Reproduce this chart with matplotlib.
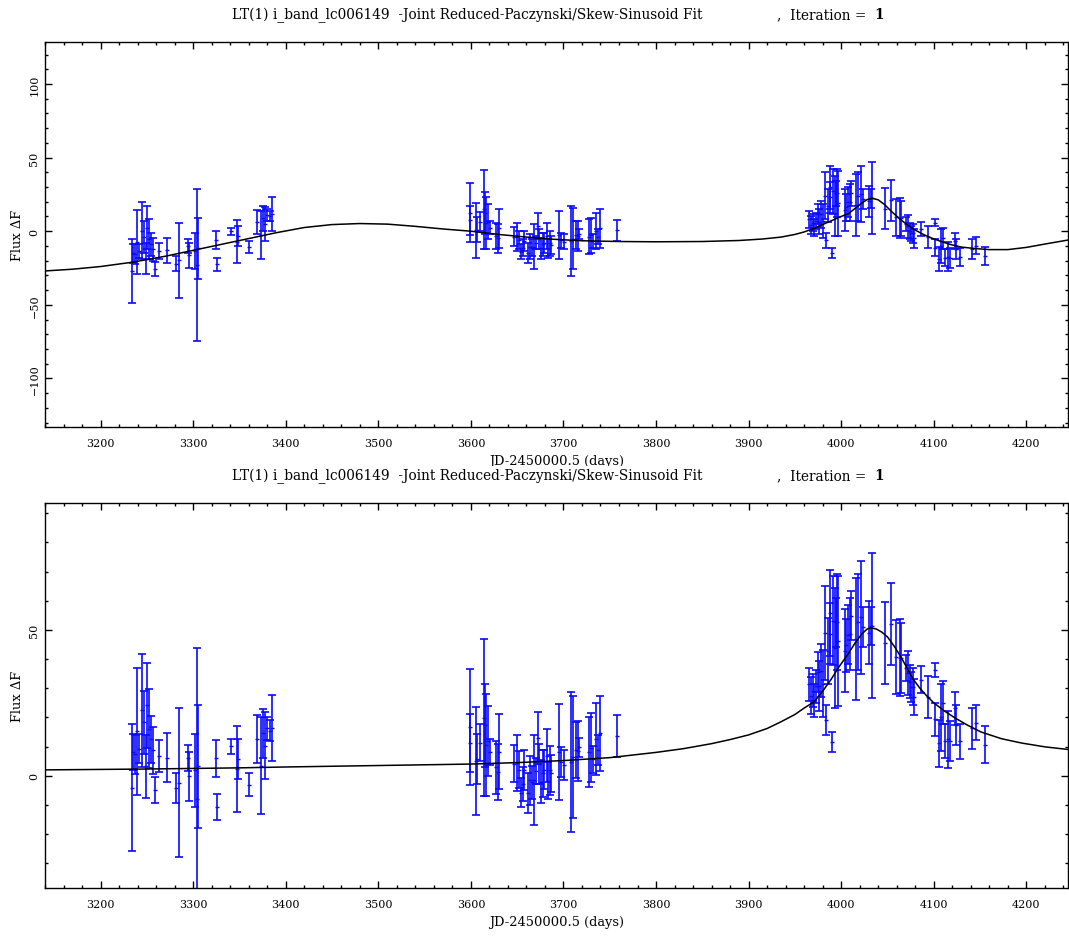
import matplotlib
matplotlib.use('Agg')
import matplotlib.pyplot as plt
from matplotlib.ticker import MultipleLocator

plt.rcParams['font.family'] = ['DejaVu Serif', 'DejaVu Sans']

# observation epochs (JD-2450000.5), fluxes for both panels and errors
jd = [3234, 3235, 3237, 3239, 3241, 3245, 3247, 3249, 3250, 3252, 3254, 3257, 3259, 3263,
      3272, 3282, 3285, 3294, 3295, 3302, 3304.5, 3305, 3325, 3326, 3340.5, 3347, 3348.5,
      3360, 3369, 3373, 3376, 3378, 3380, 3383, 3385.6,
      3599, 3599.5, 3605.4, 3607, 3610, 3614.4, 3614.8, 3616.2, 3618, 3621, 3627, 3629,
      3630.7, 3647, 3649.4, 3652, 3654, 3656, 3657.7, 3661.3, 3664, 3666, 3668.5, 3670,
      3672, 3674, 3675.7, 3677.5, 3679.3, 3682, 3683, 3685, 3686, 3695.5, 3697, 3701, 3708,
      3710, 3713.5, 3715.3, 3717, 3728, 3730, 3732, 3735, 3737, 3739, 3758,
      3965.7, 3967.5, 3969.3, 3971, 3973, 3974.7, 3976.5, 3978.3, 3980, 3982, 3983.8,
      3985.5, 3987.4, 3988.4, 3990, 3991, 3992.8, 3994, 3995.6, 3997, 4003.6, 4005.4,
      4007.2, 4009, 4010.8, 4016, 4018, 4021.6, 4023.4, 4029.5, 4031.7, 4033.5, 4046.8,
      4054, 4059.4, 4063, 4064.8, 4070, 4072, 4073.8, 4075.6, 4077.4, 4079, 4085.7,
      4093.7, 4101.6, 4101.6, 4106, 4108, 4110, 4111.7, 4115.3, 4117, 4122.5, 4123.5,
      4128, 4141.6, 4146, 4154.9]

flux_top = [-27.3, -15.1, -15.7, -7.5, -13.4, 0.2, -3.7, -18.6, 2.3, -5.5, -8.9, -12.3, -25.7,
            -13.4, -12.8, -22.0, -19.7, -10.0, -16.3, -13.5, -23.0, -11.7, -6.0, -22.6, 0.0,
            -7.0, -3.2, -10.6, 6.2, -2.6, 8.8, 4.8, 11.0, 10.5, 11.6,
            12.6, 7.3, 0.6, 1.0, 6.5, 14.8, 12.2, 5.3, 6.5, 2.5, -3.2, -4.9, 1.9, -3.7, -3.7,
            -6.0, -14.0, -11.2, -6.6, -14.6, -10.5, -11.2, -10.6, -7.7, 3.4, -5.5, -11.7, -8.9,
            -7.7, -3.2, -11.7, -8.3, -9.4, -2.6, -6.0, -7.2, -6.6, -5.0, -2.6, -3.2, -2.0,
            -3.8, -2.6, -6.6, 0.2, -3.8, 1.9, 0.5,
            8.2, 4.2, 5.9, 2.5, 7.0, 11.6, 6.5, 11.6, 7.0, 24.0, -6.0, 17.4, 23.0, 29.8,
            -14.6, 27.0, 17.3, 25.9, 25.9, 19.0, 14.5, 16.2, 19.6, 19.6, 25.9, 17.8, 23.6,
            25.3, 21.9, 20.2, 22.4, 22.6, 15.3, 21.1, 9.5, 9.0, 8.7, 4.9, 3.3, 0.2, -1.5,
            -1.5, -4.9, 1.4, -4.0, 5.7, -11.2, -19.0, -10.0, -4.9, -18.0, -17.3, -18.0, -6.6,
            -12.3, -17.7, -12.0, -9.8, -16.7]

flux_bot = [-4.1, 8.1, 7.3, 15.3, 9.2, 22.4, 18.3, 3.3, 24.1, 16.1, 12.5, 8.7, -4.9, 6.8,
            6.2, -4.3, -2.4, 6.2, -0.2, 1.8, -8.0, 3.2, 6.0, -10.7, 10.1, 2.2, 5.8, -3.1,
            12.7, 3.5, 14.5, 10.3, 16.3, 15.5, 16.3,
            16.6, 11.3, 5.1, 5.6, 11.3, 19.9, 17.3, 10.5, 11.9, 8.1, 2.9, 1.3, 8.3, 4.1, 4.3,
            2.1, -5.8, -2.8, 1.9, -5.9, -1.6, -2.2, -1.4, 1.6, 12.8, 4.0, -2.1, 0.8, 2.1, 6.8,
            -1.7, 1.8, 0.8, 8.1, 4.8, 3.8, 4.7, 6.4, 8.9, 8.4, 9.7, 8.3, 9.6, 5.7, 12.6, 8.7,
            14.5, 13.7,
            31.3, 27.4, 29.2, 25.9, 30.7, 35.5, 30.7, 36.0, 31.6, 48.9, 19.2, 42.8, 48.7, 55.7,
            11.5, 53.2, 43.8, 52.6, 52.8, 46.2, 42.8, 44.8, 48.4, 48.6, 54.9, 46.8, 52.6, 54.3,
            50.9, 49.1, 51.3, 51.5, 45.5, 52.1, 40.8, 40.5, 40.3, 36.9, 35.3, 32.2, 30.5, 30.5,
            27.0, 32.9, 27.0, 36.2, 19.3, 11.1, 20.0, 25.1, 11.9, 12.5, 11.8, 23.1, 17.3,
            11.8, 16.3, 18.1, 10.6]

flux_err = [21.8, 6.3, 6.8, 21.8, 5.0, 19.4, 10.8, 10.8, 14.6, 13.6, 8.0, 8.0, 4.5, 5.6,
            8.5, 5.1, 25.6, 4.5, 8.5, 12.5, 51.7, 21.0, 6.3, 4.5, 2.5, 14.7, 6.8, 4.0, 8.2,
            16.5, 8.5, 11.4, 4.0, 3.5, 11.4,
            19.9, 10.0, 18.5, 8.6, 6.3, 27.0, 14.2, 17.6, 12.0, 4.5, 9.1, 9.6, 13.0, 6.3, 9.6,
            6.3, 5.0, 5.7, 6.8, 6.8, 8.5, 5.7, 15.4, 4.5, 8.9, 6.8, 7.4, 8.0, 6.8, 9.1, 6.3,
            8.5, 6.3, 16.5, 5.1, 5.1, 23.9, 21.0, 9.6, 10.2, 3.4, 12.0, 11.9, 4.6, 12.5, 5.1,
            13.0, 7.2,
            5.7, 6.3, 5.7, 5.7, 5.7, 6.8, 8.5, 9.1, 11.4, 16.0, 5.1, 11.4, 10.4, 14.8, 3.4,
            15.4, 20.5, 8.5, 16.5, 22.2, 14.2, 9.1, 10.2, 12.5, 8.5, 21.0, 16.5, 19.3, 6.8,
            10.8, 6.4, 24.7, 13.9, 14.0, 12.7, 13.3, 12.0, 4.5, 7.6, 5.7, 5.1, 6.3, 6.3, 4.6,
            7.2, 2.5, 5.7, 8.0, 11.4, 7.4, 5.7, 9.7, 6.8, 5.7, 6.8, 6.0, 7.0, 6.0, 6.3]

# fitted model curves
fit_top_x = [3140, 3170, 3200, 3235, 3270, 3300, 3330, 3360, 3390, 3420, 3450, 3480, 3510,
             3540, 3570, 3600, 3630, 3660, 3690, 3720, 3760, 3800, 3850, 3890, 3915, 3935,
             3950, 3960, 3971, 3980, 3989, 3998, 4008, 4015, 4022, 4028, 4034, 4040, 4047,
             4054, 4063, 4072, 4081, 4090, 4099, 4108, 4119, 4130, 4145, 4160, 4180, 4200,
             4222, 4245]
fit_top_y = [-27, -25.8, -24, -21, -17, -13, -9, -5, -1, 2.5, 4.5, 5.2, 4.8, 3.3, 1.5, 0,
             -2.2, -4, -5.5, -6.5, -7, -7.2, -7, -6.3, -5.3, -4, -2.2, -0.5, 2, 4.5, 7, 9.5,
             12, 15.5, 19, 21.5, 22.3, 21.3, 18, 13.6, 8.5, 4, 0.4, -2.6, -5, -7, -9.2,
             -10.8, -11.8, -12.5, -12.5, -11, -8.5, -6]

fit_bot_x = [3140, 3250, 3350, 3400, 3500, 3600, 3650, 3700, 3750, 3800, 3830, 3860, 3880,
             3900, 3920, 3935, 3950, 3960, 3971, 3980, 3989, 3998, 4008, 4015, 4022, 4028,
             4032, 4038, 4044, 4050, 4057, 4064, 4071, 4078, 4085, 4092, 4100, 4111, 4122,
             4136, 4151, 4173, 4195, 4220, 4245]
fit_bot_y = [2, 2.3, 2.7, 3, 3.5, 4, 4.5, 5.2, 6.2, 8, 9.3, 11, 12.4, 14, 16.2, 18.5, 21,
             23.2, 25.4, 29, 33, 37.5, 42, 45.5, 48.5, 50.3, 50.7, 50.3, 49.2, 47.6, 44.5,
             41, 37, 33, 30, 27.5, 25, 22.3, 20, 17.4, 15, 12.7, 11.2, 9.9, 9]

title_left = 'LT(1) i_band_lc006149  -Joint Reduced-Paczynski/Skew-Sinusoid Fit'
title_mid = ',  Iteration ='
title_iter = '1'


def draw_panel(ax, flux, fit_x, fit_y, ylim):
    ax.errorbar(jd, flux, yerr=flux_err, fmt='_', color='#0a0aff', ms=3,
                elinewidth=1.2, capsize=2.6, capthick=1.2, zorder=2)
    ax.plot(fit_x, fit_y, color='black', lw=1.1, zorder=3)
    ax.set_xlim(3140, 4245)
    ax.set_ylim(ylim)
    ax.xaxis.set_major_locator(MultipleLocator(100))
    ax.xaxis.set_minor_locator(MultipleLocator(20))
    ax.yaxis.set_major_locator(MultipleLocator(50))
    ax.yaxis.set_minor_locator(MultipleLocator(10))
    ax.tick_params(which='both', direction='in', top=True, right=True, width=1.0,
                   labelsize=8)
    ax.tick_params(which='major', length=5)
    ax.tick_params(which='minor', length=2.5)
    ax.tick_params(axis='x', pad=8)
    ax.tick_params(axis='y', pad=4)
    plt.setp(ax.get_yticklabels(), rotation=90, va='center')
    for s in ax.spines.values():
        s.set_linewidth(1.0)
    ax.set_xlabel('JD-2450000.5 (days)', fontsize=9.4, labelpad=4)
    ax.set_ylabel('Flux \u0394F', fontsize=9.4, labelpad=4)


fig = plt.figure(figsize=(10.69, 9.37), dpi=100)
ax1 = fig.add_axes([0.0421, 0.5432, 0.957, 0.4109])
ax2 = fig.add_axes([0.0421, 0.0512, 0.957, 0.4109])

draw_panel(ax1, flux_top, fit_top_x, fit_top_y, (-133, 128.5))
draw_panel(ax2, flux_bot, fit_bot_x, fit_bot_y, (-38.5, 93.5))

for ty in (0.984, 0.492):
    box = dict(facecolor='white', edgecolor='none', pad=1)
    fig.text(0.217, ty, title_left, ha='left', va='center', fontsize=9.8, bbox=box)
    fig.text(0.727, ty, title_mid, ha='left', va='center', fontsize=9.8)
    fig.text(0.818, ty, title_iter, ha='left', va='center', fontsize=9.8,
             fontweight='bold')

plt.savefig('out.png', dpi=100)
